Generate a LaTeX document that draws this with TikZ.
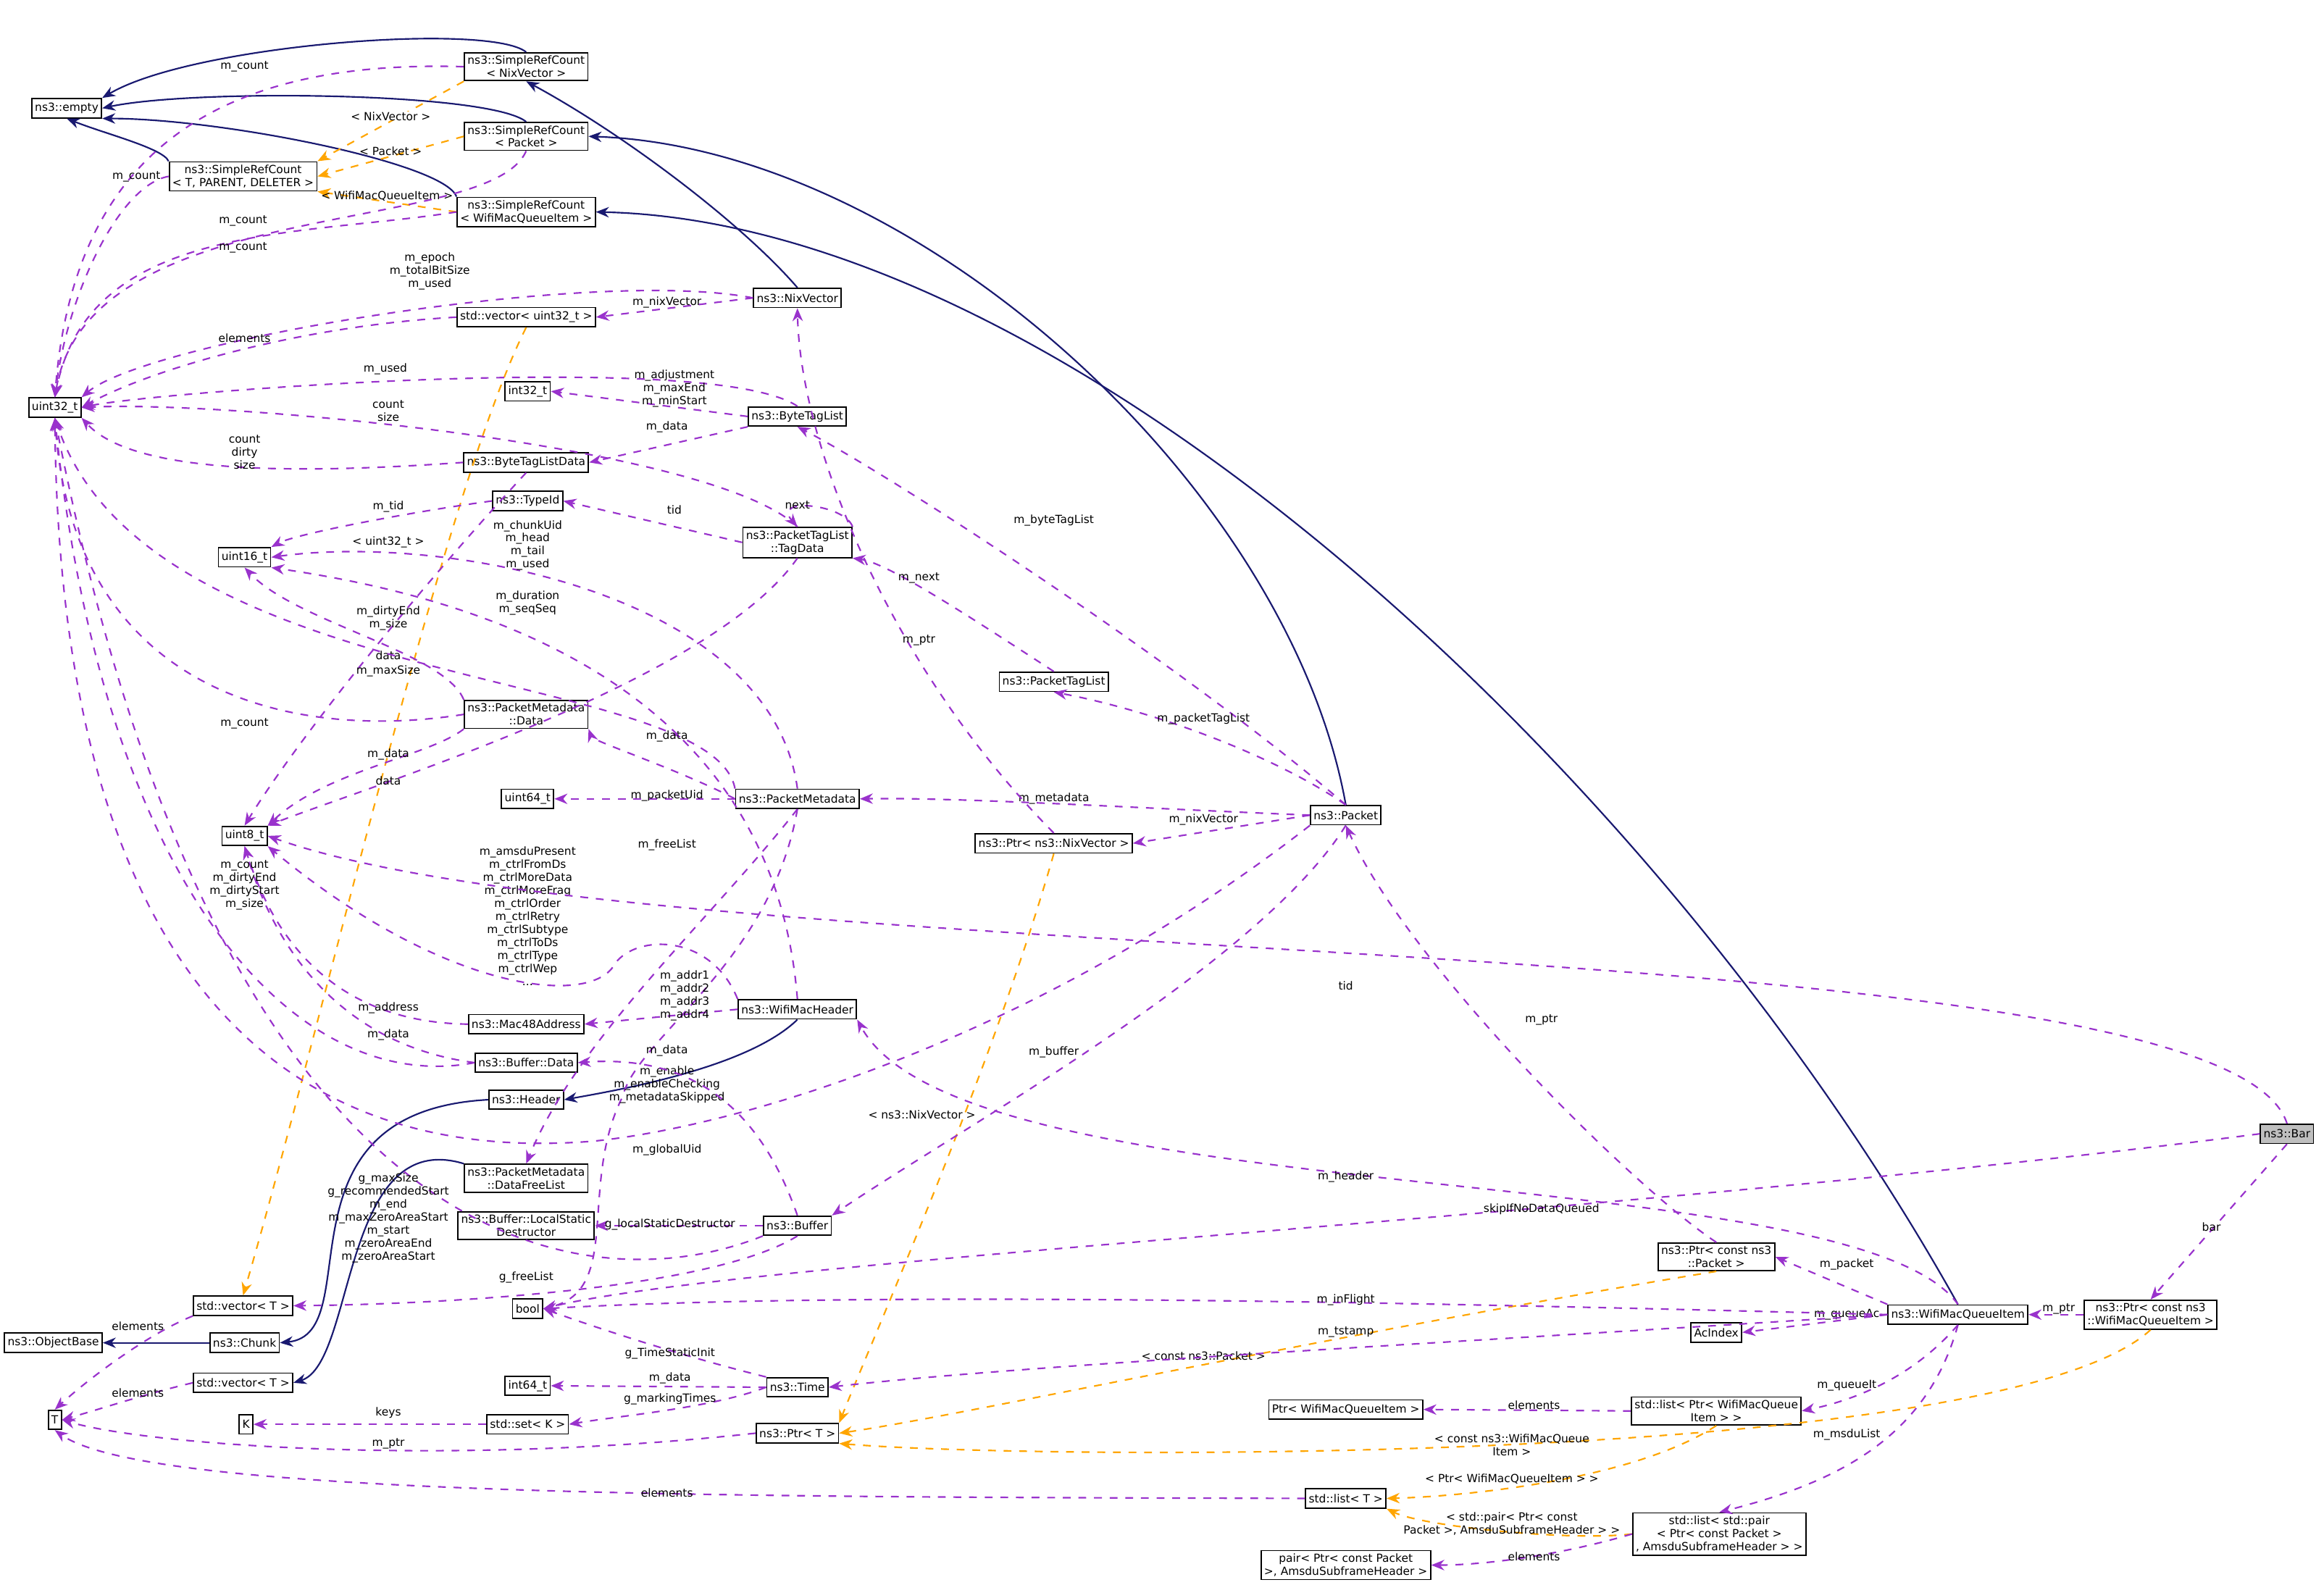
\documentclass[tikz,border=0pt]{standalone}
\usepackage{fontspec}
\setmainfont{DejaVu Sans}
\usetikzlibrary{arrows.meta}
\definecolor{inh}{RGB}{25,25,112}
\definecolor{use}{RGB}{153,50,204}
\definecolor{tpl}{RGB}{255,165,0}
\begin{document}
\begin{tikzpicture}[x=0.02cm,y=-0.02cm,
 every node/.style={font=\fontsize{4.3}{5}\selectfont},
 box/.style={draw,line width=0.5pt,fill=white,inner sep=1.2pt,minimum height=0.26cm,align=center},
 lab/.style={inner sep=0pt,align=center},
 inhe/.style={draw=inh,line width=0.6pt,-{Stealth[length=5pt,width=4pt]},fill=none},
 usee/.style={draw=use,line width=0.6pt,dashed,-{Stealth[length=5pt,width=4pt]}},
 tple/.style={draw=tpl,line width=0.6pt,dashed,-{Stealth[length=5pt,width=4pt]}}]
\useasboundingbox (0,0) rectangle (1568,1069);
% nodes
\node[box] (empty) at (45,73) {ns3::empty};
\node[box] (srcN) at (355,45) {ns3::SimpleRefCount\\< NixVector >};
\node[box] (srcP) at (355,92) {ns3::SimpleRefCount\\< Packet >};
\node[box] (srcT) at (164,119) {ns3::SimpleRefCount\\< T, PARENT, DELETER >};
\node[box] (srcW) at (355,143) {ns3::SimpleRefCount\\< WifiMacQueueItem >};
\node[box] (u32) at (37,275) {uint32\_t};
\node[box] (nix) at (538,201) {ns3::NixVector};
\node[box] (vu32) at (355,214) {std::vector< uint32\_t >};
\node[box] (i32) at (356,264) {int32\_t};
\node[box] (btl) at (538,281) {ns3::ByteTagList};
\node[box] (btld) at (355,312) {ns3::ByteTagListData};
\node[box] (tid) at (356,338) {ns3::TypeId};
\node[box] (td) at (538,366) {ns3::PacketTagList\\::TagData};
\node[box] (u16) at (165,376) {uint16\_t};
\node[box] (ptl) at (711,460) {ns3::PacketTagList};
\node[box] (pmd) at (355,482) {ns3::PacketMetadata\\::Data};
\node[box] (u64) at (356,539) {uint64\_t};
\node[box] (pm) at (538,539) {ns3::PacketMetadata};
\node[box] (u8) at (165,564) {uint8\_t};
\node[box] (pkt) at (908,550) {ns3::Packet};
\node[box] (pnix) at (711,569) {ns3::Ptr< ns3::NixVector >};
\node[box] (mac) at (355,691) {ns3::Mac48Address};
\node[box] (wmh) at (538,681) {ns3::WifiMacHeader};
\node[box] (bd) at (355,717) {ns3::Buffer::Data};
\node[box] (hdr) at (355,742) {ns3::Header};
\node[box] (pmfl) at (355,795) {ns3::PacketMetadata\\::DataFreeList};
\node[box,fill=black!25] (bar) at (1543,765) {ns3::Bar};
\node[box] (lsd) at (355,827) {ns3::Buffer::LocalStatic\\Destructor};
\node[box] (buf) at (538,827) {ns3::Buffer};
\node[box] (pp) at (1158,848) {ns3::Ptr< const ns3\\::Packet >};
\node[box] (vt1) at (164,881) {std::vector< T >};
\node[box] (ob) at (36,906) {ns3::ObjectBase};
\node[box] (chunk) at (165,906) {ns3::Chunk};
\node[box] (bool) at (356,883) {bool};
\node[box] (wmqi) at (1321,887) {ns3::WifiMacQueueItem};
\node[box] (pw) at (1451,887) {ns3::Ptr< const ns3\\::WifiMacQueueItem >};
\node[box] (ac) at (1158,899) {AcIndex};
\node[box] (vt2) at (164,933) {std::vector< T >};
\node[box] (i64) at (356,935) {int64\_t};
\node[box] (time) at (538,936) {ns3::Time};
\node[box] (ptrw) at (908,951) {Ptr< WifiMacQueueItem >};
\node[box] (lp) at (1158,952) {std::list< Ptr< WifiMacQueue\\Item > >};
\node[box] (T) at (37,958) {T};
\node[box] (K) at (166,961) {K};
\node[box] (setk) at (356,961) {std::set< K >};
\node[box] (ptrT) at (538,967) {ns3::Ptr< T >};
\node[box] (lt) at (908,1011) {std::list< T >};
\node[box] (lpair) at (1160,1035) {std::list< std::pair\\< Ptr< const Packet >\\, AmsduSubframeHeader > >};
\node[box] (pair) at (908,1056) {pair< Ptr< const Packet\\>, AmsduSubframeHeader >};
% inheritance
\draw[inhe] (srcN.north) .. controls (330,15) and (130,30) .. (empty.north east);
\draw[inhe] (srcP.north) .. controls (330,62) and (130,60) .. (empty.east);
\draw[inhe] (srcT.north west) .. controls (110,100) and (70,90) .. (empty.south);
\draw[inhe] (srcW.north west) .. controls (300,110) and (150,80) .. (empty.south east);
\draw[inhe] (nix.north) .. controls (500,150) and (420,90) .. (srcN.south);
\draw[inhe] (pkt.north) .. controls (870,330) and (620,100) .. (srcP.east);
\draw[inhe] (wmqi.north) .. controls (1120,520) and (720,150) .. (srcW.east);
\draw[inhe] (wmh.south) .. controls (505,720) and (420,735) .. (hdr.east);
\draw[inhe] (hdr.west) .. controls (180,750) and (250,900) .. (chunk.east);
\draw[inhe] (pmfl.north west) .. controls (230,760) and (240,920) .. (vt2.east);
\draw[inhe] (chunk.west) -- (ob.east);
% templates
\draw[tple] (srcN.south west) -- node[lab,above,pos=0.5,fill=white] {< NixVector >} (srcT.north east);
\draw[tple] (srcP.west) -- node[lab,above,pos=0.5] {< Packet >} (srcT.east);
\draw[tple] (srcW.west) -- node[lab,above,pos=0.5] {< WifiMacQueueItem >} (srcT.south east);
\draw[tple] (vu32.south) .. controls (300,330) and (215,700) .. (vt1.north);
\node[lab] (l1) at (262,366) {< uint32\_t >};
\draw[tple] (pnix.south) .. controls (670,720) and (590,900) .. (ptrT.north east);
\node[lab] (l2) at (622,752) {< ns3::NixVector >};
\draw[tple] (pp.south) .. controls (900,900) and (650,955) .. (ptrT.east);
\node[lab] (l3) at (812,915) {< const ns3::Packet >};
\draw[tple] (pw.south) .. controls (1350,990) and (700,985) .. (ptrT.south east);
\node[lab] (l4) at (1020,975) {< const ns3::WifiMacQueue\\Item >};
\draw[tple] (lp.south) .. controls (1100,1000) and (980,1010) .. (lt.east);
\node[lab] (l5) at (1020,998) {< Ptr< WifiMacQueueItem > >};
\draw[tple] (lpair.west) .. controls (1060,1040) and (960,1030) .. (lt.south east);
\node[lab] (l6) at (1020,1028) {< std::pair< Ptr< const\\Packet >, AmsduSubframeHeader > >};
% usage
\draw[usee] (srcN.west) .. controls (150,40) and (50,100) .. (u32.north);
\node[lab] (a1) at (165,45) {m\_count};
\draw[usee] (srcT.west) .. controls (80,125) and (45,200) .. (u32.north);
\node[lab] (a2) at (92,119) {m\_count};
\draw[usee] (srcP.south) .. controls (330,160) and (60,130) .. (u32.north);
\node[lab] (a3) at (164,149) {m\_count};
\draw[usee] (srcW.west) .. controls (200,160) and (60,150) .. (u32.north);
\node[lab] (a4) at (164,167) {m\_count};
\draw[usee] (nix.west) .. controls (400,180) and (100,230) .. (u32.north east);
\node[lab] (a5) at (290,183) {m\_epoch\\m\_totalBitSize\\m\_used};
\draw[usee] (nix.west) -- (vu32.east);
\node[lab] (a6) at (450,204) {m\_nixVector};
\draw[usee] (vu32.west) .. controls (200,220) and (100,250) .. (u32.east);
\node[lab] (a7) at (165,228) {elements};
\draw[usee] (btl.north) .. controls (480,235) and (100,265) .. (u32.east);
\node[lab] (a8) at (260,249) {m\_used};
\draw[usee] (btl.west) -- (i32.east);
\node[lab] (a9) at (455,262) {m\_adjustment\\m\_maxEnd\\m\_minStart};
\draw[usee] (btl.south west) -- (btld.east);
\node[lab] (a10) at (450,288) {m\_data};
\draw[usee] (btld.west) .. controls (200,320) and (90,320) .. (u32.south east);
\node[lab] (a11) at (165,305) {count\\dirty\\size};
\draw[usee] (td.north) .. controls (480,300) and (150,270) .. (u32.east);
\node[lab] (a12) at (262,277) {count\\size};
\draw[usee] (tid.west) .. controls (280,345) and (200,360) .. (u16.north east);
\node[lab] (a13) at (262,342) {m\_tid};
\draw[usee] (td.west) -- (tid.east);
\node[lab] (a14) at (455,344) {tid};
\draw[usee] (td.north east) .. controls (570,340) and (520,335) .. (td.north);
\node[lab] (a15) at (538,341) {next};
\draw[usee] (btld.south) .. controls (280,400) and (200,500) .. (u8.north);
\node[lab] (a16) at (262,442) {data};
\draw[usee] (td.south) .. controls (480,460) and (250,530) .. (u8.north east);
\node[lab] (a17) at (262,527) {data};
\draw[usee] (ptl.north) .. controls (660,420) and (600,380) .. (td.south east);
\node[lab] (a18) at (620,390) {m\_next};
\draw[usee] (pkt.north) .. controls (800,450) and (600,320) .. (btl.south);
\node[lab] (a19) at (711,351) {m\_byteTagList};
\draw[usee] (pkt.north) .. controls (860,510) and (780,480) .. (ptl.south);
\node[lab] (a20) at (812,485) {m\_packetTagList};
\draw[usee] (pkt.west) .. controls (760,545) and (650,538) .. (pm.east);
\node[lab] (a21) at (711,539) {m\_metadata};
\draw[usee] (pkt.west) -- (pnix.east);
\node[lab] (a22) at (812,553) {m\_nixVector};
\draw[usee] (pkt.south) .. controls (850,650) and (650,760) .. (buf.north east);
\node[lab] (a23) at (711,710) {m\_buffer};
\draw[usee] (pkt.south west) .. controls (700,700) and (500,760) .. (400,770) .. controls (150,790) and (40,600) .. (u32.south);
\node[lab] (a24) at (450,776) {m\_globalUid};
\draw[usee] (pnix.north) .. controls (600,450) and (540,300) .. (nix.south);
\node[lab] (a25) at (620,432) {m\_ptr};
\draw[usee] (pm.north) .. controls (520,400) and (300,360) .. (u16.east);
\node[lab] (a26) at (356,368) {m\_chunkUid\\m\_head\\m\_tail\\m\_used};
\draw[usee] (pm.north west) .. controls (480,450) and (100,470) .. (u32.south);
\node[lab] (a27) at (262,453) {m\_maxSize};
\draw[usee] (pm.west) .. controls (460,520) and (400,500) .. (pmd.south east);
\node[lab] (a28) at (450,497) {m\_data};
\draw[usee] (pm.west) -- (u64.east);
\node[lab] (a29) at (450,537) {m\_packetUid};
\draw[usee] (pm.south) .. controls (480,620) and (390,700) .. (pmfl.north);
\node[lab] (a30) at (450,570) {m\_freeList};
\draw[usee] (pm.south) .. controls (520,650) and (430,700) .. (420,740) .. controls (390,800) and (420,870) .. (bool.east);
\node[lab] (a31) at (450,732) {m\_enable\\m\_enableChecking\\m\_metadataSkipped};
\draw[usee] (pmd.north west) .. controls (300,440) and (200,420) .. (u16.south);
\node[lab] (a32) at (262,417) {m\_dirtyEnd\\m\_size};
\draw[usee] (pmd.west) .. controls (200,500) and (50,470) .. (u32.south);
\node[lab] (a33) at (165,488) {m\_count};
\draw[usee] (pmd.south west) .. controls (290,510) and (220,520) .. (u8.north east);
\node[lab] (a34) at (262,509) {m\_data};
\draw[usee] (wmh.north) .. controls (520,450) and (300,400) .. (u16.south east);
\node[lab] (a35) at (356,407) {m\_duration\\m\_seqSeq};
\draw[usee] (wmh.north west) .. controls (480,630) and (430,630) .. (415,650) .. controls (400,680) and (300,670) .. (u8.south east);
\node[lab] (a36) at (356,618) {m\_amsduPresent\\m\_ctrlFromDs\\m\_ctrlMoreData\\m\_ctrlMoreFrag\\m\_ctrlOrder\\m\_ctrlRetry\\m\_ctrlSubtype\\m\_ctrlToDs\\m\_ctrlType\\m\_ctrlWep\\...};
\draw[usee] (wmh.west) -- (mac.east);
\node[lab] (a37) at (462,672) {m\_addr1\\m\_addr2\\m\_addr3\\m\_addr4};
\draw[usee] (mac.west) .. controls (240,690) and (190,650) .. (u8.south);
\node[lab] (a38) at (262,680) {m\_address};
\draw[usee] (bd.west) .. controls (230,705) and (185,640) .. (u8.south);
\node[lab] (a39) at (262,698) {m\_data};
\draw[usee] (bd.west) .. controls (200,740) and (70,600) .. (u32.south);
\node[lab] (a40) at (165,597) {m\_count\\m\_dirtyEnd\\m\_dirtyStart\\m\_size};
\draw[usee] (buf.north) .. controls (510,740) and (460,712) .. (bd.east);
\node[lab] (a41) at (450,709) {m\_data};
\draw[usee] (buf.south west) .. controls (400,880) and (150,860) .. (u32.south);
\node[lab] (a42) at (262,822) {g\_maxSize\\g\_recommendedStart\\m\_end\\m\_maxZeroAreaStart\\m\_start\\m\_zeroAreaEnd\\m\_zeroAreaStart};
\draw[usee] (buf.west) -- (lsd.east);
\node[lab] (a43) at (452,826) {g\_localStaticDestructor};
\draw[usee] (buf.south) .. controls (480,870) and (300,880) .. (vt1.east);
\node[lab] (a44) at (355,862) {g\_freeList};
\draw[usee] (bar.north) .. controls (1500,620) and (450,660) .. (u8.east);
\node[lab] (a45) at (908,665) {tid};
\draw[usee] (bar.west) .. controls (1100,820) and (500,850) .. (bool.east);
\node[lab] (a46) at (1040,816) {skipIfNoDataQueued};
\draw[usee] (bar.south) -- (pw.north);
\node[lab] (a47) at (1492,828) {bar};
\draw[usee] (wmqi.north) .. controls (1250,780) and (650,820) .. (wmh.south east);
\node[lab] (a48) at (908,794) {m\_header};
\draw[usee] (wmqi.north west) -- (pp.east);
\node[lab] (a49) at (1246,853) {m\_packet};
\draw[usee] (wmqi.west) -- (ac.east);
\node[lab] (a50) at (1246,887) {m\_queueAc};
\draw[usee] (wmqi.west) .. controls (1000,880) and (600,870) .. (bool.east);
\node[lab] (a51) at (908,877) {m\_inFlight};
\draw[usee] (wmqi.west) .. controls (1000,905) and (700,920) .. (time.east);
\node[lab] (a52) at (908,899) {m\_tstamp};
\draw[usee] (wmqi.south) .. controls (1290,930) and (1250,945) .. (lp.east);
\node[lab] (a53) at (1246,935) {m\_queueIt};
\draw[usee] (wmqi.south) .. controls (1300,970) and (1240,1000) .. (lpair.north);
\node[lab] (a54) at (1246,968) {m\_msduList};
\draw[usee] (pw.west) -- (wmqi.east);
\node[lab] (a55) at (1389,883) {m\_ptr};
\draw[usee] (pp.north) .. controls (1100,800) and (950,650) .. (pkt.south);
\node[lab] (a56) at (1040,688) {m\_ptr};
\draw[usee] (time.north west) .. controls (460,915) and (400,895) .. (bool.east);
\node[lab] (a57) at (452,913) {g\_TimeStaticInit};
\draw[usee] (time.west) -- (i64.east);
\node[lab] (a58) at (452,930) {m\_data};
\draw[usee] (time.west) .. controls (480,950) and (420,955) .. (setk.east);
\node[lab] (a59) at (452,944) {g\_markingTimes};
\draw[usee] (setk.west) -- (K.east);
\node[lab] (a60) at (262,953) {keys};
\draw[usee] (vt1.south west) .. controls (100,900) and (60,930) .. (T.north);
\node[lab] (a61) at (93,895) {elements};
\draw[usee] (vt2.west) .. controls (100,940) and (70,950) .. (T.east);
\node[lab] (a62) at (93,940) {elements};
\draw[usee] (ptrT.west) .. controls (300,990) and (100,975) .. (T.east);
\node[lab] (a63) at (262,974) {m\_ptr};
\draw[usee] (lt.west) .. controls (500,1010) and (100,1010) .. (T.south);
\node[lab] (a64) at (450,1007) {elements};
\draw[usee] (lp.west) -- (ptrw.east);
\node[lab] (a65) at (1035,948) {elements};
\draw[usee] (lpair.west) .. controls (1050,1050) and (1000,1056) .. (pair.east);
\node[lab] (a66) at (1035,1050) {elements};
\end{tikzpicture}
\end{document}
